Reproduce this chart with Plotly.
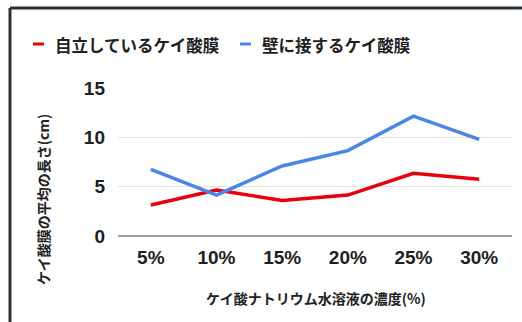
import plotly.graph_objects as go

# Concentration of sodium silicate solution (%)
categories = ["5%", "10%", "15%", "20%", "25%", "30%"]
# Average length of silicate membranes (cm)
free_standing = [3.15, 4.65, 3.6, 4.15, 6.35, 5.75]
wall_attached = [6.75, 4.15, 7.1, 8.65, 12.15, 9.8]
series_names = ["自立しているケイ酸膜", "壁に接するケイ酸膜"]
series_colors = ["#e8000b", "#4a86e8"]
y_ticks = [0, 5, 10, 15]

W, H = 522, 322
ML, MR, MT, MB = 118, 10, 88, 86
pw, ph = W - ML - MR, H - MT - MB
TEXT = "#212121"
JP = "Noto Sans CJK JP"

def px_x(x):
    return (x - ML) / pw

def px_y(y):
    return (H - MB - y) / ph

fig = go.Figure()
for name, vals, col in zip(series_names, [free_standing, wall_attached], series_colors):
    fig.add_trace(go.Scatter(x=categories, y=vals, mode="lines", name=name,
                             line=dict(color=col, width=3.5), showlegend=False))

shapes = [
    # frame lines (top and left)
    dict(type="line", xref="paper", yref="paper", x0=px_x(10), x1=px_x(W + 5),
         y0=px_y(8), y1=px_y(8), line=dict(color="#263238", width=3)),
    dict(type="line", xref="paper", yref="paper", x0=px_x(10), x1=px_x(10),
         y0=px_y(8), y1=px_y(H + 5), line=dict(color="#263238", width=3)),
]
annotations = []
legend_x = [33, 240]
for name, col, lx in zip(series_names, series_colors, legend_x):
    shapes.append(dict(type="line", xref="paper", yref="paper",
                       x0=px_x(lx), x1=px_x(lx + 11), y0=px_y(44), y1=px_y(44),
                       line=dict(color=col, width=3)))
    annotations.append(dict(xref="paper", yref="paper", x=px_x(lx + 20), y=px_y(44.5),
                            text=name, showarrow=False, xanchor="left", yanchor="middle",
                            font=dict(size=16.5, color=TEXT, family=JP, weight="bold")))
annotations.append(dict(xref="paper", yref="paper", x=px_x(43), y=px_y(200),
                        text="ケイ酸膜の平均の長さ(cm)", textangle=-90, showarrow=False,
                        xanchor="center", yanchor="middle",
                        font=dict(size=14, color=TEXT, family=JP, weight="bold")))
annotations.append(dict(xref="paper", yref="paper", x=px_x(316), y=px_y(298),
                        text="ケイ酸ナトリウム水溶液の濃度(%)", showarrow=False,
                        xanchor="center", yanchor="middle",
                        font=dict(size=14, color=TEXT, family=JP, weight="bold")))

tickfont = dict(size=19, family="Liberation Sans", color=TEXT, weight="bold")
fig.update_layout(
    width=W, height=H,
    margin=dict(l=ML, r=MR, t=MT, b=MB),
    paper_bgcolor="white", plot_bgcolor="white",
    shapes=shapes, annotations=annotations,
    xaxis=dict(range=[-0.5, 5.5], showgrid=False, showline=False, zeroline=False,
               ticks="", tickfont=tickfont, ticklabelstandoff=8),
    yaxis=dict(range=[0, 15], tickvals=y_ticks, showgrid=True, gridcolor="#e3e3e3",
               gridwidth=1, zeroline=True, zerolinecolor="#9e9e9e", zerolinewidth=2,
               showline=False, ticks="", fixedrange=True,
               tickfont=tickfont, ticklabelstandoff=12),
)

fig.write_html("out.html")
